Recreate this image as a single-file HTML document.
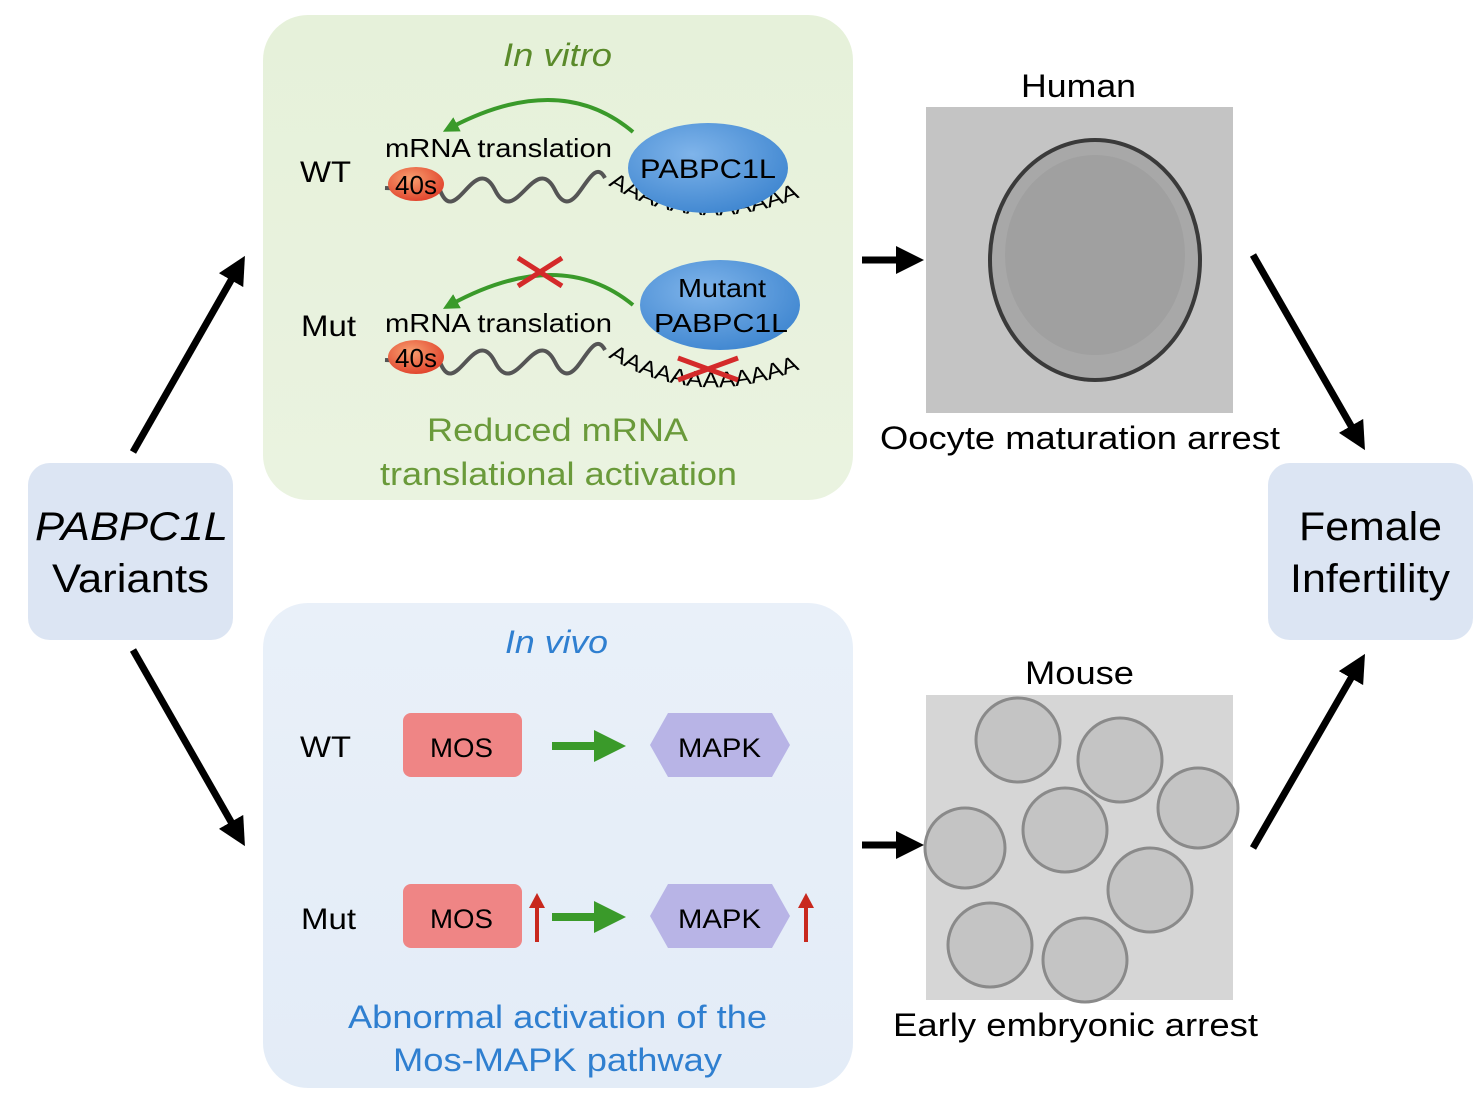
<!DOCTYPE html>
<html><head><meta charset="utf-8"><style>
html,body{margin:0;padding:0;background:#fff;}
svg{display:block;font-family:"Liberation Sans",sans-serif;}
</style></head><body>
<svg width="1482" height="1100" viewBox="0 0 1482 1100">
<defs>
<linearGradient id="gg" x1="0" y1="0" x2="0" y2="1"><stop offset="0" stop-color="#e6f1da"/><stop offset="1" stop-color="#eaf3e0"/></linearGradient>
<linearGradient id="bg" x1="0" y1="0" x2="0" y2="1"><stop offset="0" stop-color="#e9f0f9"/><stop offset="1" stop-color="#e3ecf7"/></linearGradient>
<radialGradient id="pab" cx="0.4" cy="0.35" r="0.7"><stop offset="0" stop-color="#7fb4ea"/><stop offset="1" stop-color="#3f86d0"/></radialGradient>
<radialGradient id="r40" cx="0.4" cy="0.35" r="0.7"><stop offset="0" stop-color="#f8a070"/><stop offset="1" stop-color="#e0402a"/></radialGradient>
<marker id="ah" viewBox="0 0 10 10" refX="5" refY="5" markerWidth="4" markerHeight="4" orient="auto"><path d="M0,0L10,5L0,10z" fill="#000"/></marker>
<marker id="gh" viewBox="0 0 10 10" refX="5" refY="5" markerWidth="4" markerHeight="4" orient="auto"><path d="M0,0L10,5L0,10z" fill="#3a9a2a"/></marker>
<path id="tail1" d="M608,185 Q700,240 805,195"/>
<path id="tail2" d="M608,357 Q700,412 805,367"/>
</defs>

<g>
<rect x="28" y="463" width="205" height="177" rx="22" fill="#dce5f3"/>
<text x="35" y="540" font-size="40" font-style="italic" textLength="193" lengthAdjust="spacingAndGlyphs">PABPC1L</text>
<text x="52" y="592" font-size="40" textLength="157" lengthAdjust="spacingAndGlyphs">Variants</text>
</g>
<g>
<rect x="1268" y="463" width="205" height="177" rx="22" fill="#dce5f3"/>
<text x="1299" y="540" font-size="40" textLength="143" lengthAdjust="spacingAndGlyphs">Female</text>
<text x="1290" y="592" font-size="40" textLength="160" lengthAdjust="spacingAndGlyphs">Infertility</text>
</g>

<g>
<rect x="263" y="15" width="590" height="485" rx="45" fill="url(#gg)"/>
<text x="503" y="66" font-size="32" font-style="italic" fill="#5a8a2a" textLength="109" lengthAdjust="spacingAndGlyphs">In vitro</text>
<text x="300" y="182" font-size="30" textLength="51" lengthAdjust="spacingAndGlyphs">WT</text>
<text x="385" y="157" font-size="26" textLength="227" lengthAdjust="spacingAndGlyphs">mRNA translation</text>
<path d="M633,132 Q560,70 450,128" stroke="#3a9a2a" stroke-width="4" fill="none" marker-end="url(#gh)"/>
<path d="M385,188 L440,190 C455,230 475,150 495,190 C515,230 535,150 555,190 C575,230 590,150 605,178" stroke="#555" stroke-width="4" fill="none"/>
<ellipse cx="416" cy="184" rx="28" ry="17" fill="url(#r40)"/>
<text x="416" y="194" font-size="26" text-anchor="middle">40s</text>
<text font-size="22"><textPath href="#tail1" textLength="200" lengthAdjust="spacingAndGlyphs">AAAAAAAAAAAA</textPath></text>
<ellipse cx="708" cy="168" rx="80" ry="45" fill="url(#pab)"/>
<text x="640" y="178" font-size="27" textLength="136" lengthAdjust="spacingAndGlyphs">PABPC1L</text>

<text x="301" y="336" font-size="30" textLength="55" lengthAdjust="spacingAndGlyphs">Mut</text>
<text x="385" y="332" font-size="26" textLength="227" lengthAdjust="spacingAndGlyphs">mRNA translation</text>
<path d="M633,305 Q560,245 450,305" stroke="#3a9a2a" stroke-width="4" fill="none" marker-end="url(#gh)"/>
<path d="M518,258 L562,286 M518,286 L562,258" stroke="#d42a2a" stroke-width="5"/>
<path d="M385,360 L440,362 C455,402 475,322 495,362 C515,402 535,322 555,362 C575,402 590,322 605,350" stroke="#555" stroke-width="4" fill="none"/>
<ellipse cx="416" cy="357" rx="28" ry="17" fill="url(#r40)"/>
<text x="416" y="367" font-size="26" text-anchor="middle">40s</text>
<text font-size="22"><textPath href="#tail2" textLength="200" lengthAdjust="spacingAndGlyphs">AAAAAAAAAAAA</textPath></text>
<ellipse cx="720" cy="305" rx="80" ry="45" fill="url(#pab)"/>
<text x="678" y="297" font-size="26" textLength="88" lengthAdjust="spacingAndGlyphs">Mutant</text>
<text x="654" y="332" font-size="26" textLength="134" lengthAdjust="spacingAndGlyphs">PABPC1L</text>
<path d="M678,358 L738,380 M678,380 L738,358" stroke="#d42a2a" stroke-width="5"/>
<text x="427" y="441" font-size="32" fill="#6a9a3a" textLength="261" lengthAdjust="spacingAndGlyphs">Reduced mRNA</text>
<text x="380" y="485" font-size="32" fill="#6a9a3a" textLength="357" lengthAdjust="spacingAndGlyphs">translational activation</text>
</g>

<g>
<rect x="263" y="603" width="590" height="485" rx="45" fill="url(#bg)"/>
<text x="505" y="653" font-size="32" font-style="italic" fill="#2f7fd0" textLength="103" lengthAdjust="spacingAndGlyphs">In vivo</text>
<text x="300" y="757" font-size="30" textLength="51" lengthAdjust="spacingAndGlyphs">WT</text>
<rect x="403" y="713" width="119" height="64" rx="8" fill="#ef8585"/>
<text x="430" y="757" font-size="27" textLength="63" lengthAdjust="spacingAndGlyphs">MOS</text>
<line x1="552" y1="746" x2="610" y2="746" stroke="#3a9a2a" stroke-width="8" marker-end="url(#gh)"/>
<polygon points="668,713 772,713 790,745 772,777 668,777 650,745" fill="#b8b4e6"/>
<text x="678" y="757" font-size="27" textLength="83" lengthAdjust="spacingAndGlyphs">MAPK</text>

<text x="301" y="929" font-size="30" textLength="55" lengthAdjust="spacingAndGlyphs">Mut</text>
<rect x="403" y="884" width="119" height="64" rx="8" fill="#ef8585"/>
<text x="430" y="928" font-size="27" textLength="63" lengthAdjust="spacingAndGlyphs">MOS</text>
<line x1="537" y1="942" x2="537" y2="905" stroke="#c8281e" stroke-width="4"/><path d="M529,908 L537,893 L545,908z" fill="#c8281e"/>
<line x1="552" y1="917" x2="610" y2="917" stroke="#3a9a2a" stroke-width="8" marker-end="url(#gh)"/>
<polygon points="668,884 772,884 790,916 772,948 668,948 650,916" fill="#b8b4e6"/>
<text x="678" y="928" font-size="27" textLength="83" lengthAdjust="spacingAndGlyphs">MAPK</text>
<line x1="806" y1="942" x2="806" y2="905" stroke="#c8281e" stroke-width="4"/><path d="M798,908 L806,893 L814,908z" fill="#c8281e"/>
<text x="348" y="1028" font-size="32" fill="#2f7fd0" textLength="419" lengthAdjust="spacingAndGlyphs">Abnormal activation of the</text>
<text x="393" y="1071" font-size="32" fill="#2f7fd0" textLength="329" lengthAdjust="spacingAndGlyphs">Mos-MAPK pathway</text>
</g>

<g>
<text x="1021" y="97" font-size="32" textLength="115" lengthAdjust="spacingAndGlyphs">Human</text>
<rect x="926" y="107" width="307" height="306" fill="#c4c4c4"/>
<ellipse cx="1095" cy="260" rx="105" ry="120" fill="#a8a8a8" stroke="#3a3a3a" stroke-width="4"/>
<ellipse cx="1095" cy="255" rx="90" ry="100" fill="#a0a0a0"/>
<text x="880" y="449" font-size="32" textLength="400" lengthAdjust="spacingAndGlyphs">Oocyte maturation arrest</text>
</g>
<g>
<text x="1025" y="684" font-size="32" textLength="109" lengthAdjust="spacingAndGlyphs">Mouse</text>
<rect x="926" y="695" width="307" height="305" fill="#d6d6d6"/>
<g fill="#c4c4c4" stroke="#8a8a8a" stroke-width="3">
<circle cx="1018" cy="740" r="42"/><circle cx="1120" cy="760" r="42"/><circle cx="1198" cy="808" r="40"/>
<circle cx="1065" cy="830" r="42"/><circle cx="965" cy="848" r="40"/><circle cx="1150" cy="890" r="42"/>
<circle cx="990" cy="945" r="42"/><circle cx="1085" cy="960" r="42"/>
</g>
<text x="893" y="1036" font-size="32" textLength="365" lengthAdjust="spacingAndGlyphs">Early embryonic arrest</text>
</g>

<g stroke="#000" stroke-width="7" fill="none">
<line x1="133" y1="452" x2="238" y2="268" marker-end="url(#ah)"/>
<line x1="133" y1="650" x2="238" y2="834" marker-end="url(#ah)"/>
<line x1="862" y1="260" x2="910" y2="260" marker-end="url(#ah)"/>
<line x1="862" y1="845" x2="910" y2="845" marker-end="url(#ah)"/>
<line x1="1253" y1="255" x2="1358" y2="438" marker-end="url(#ah)"/>
<line x1="1253" y1="848" x2="1358" y2="666" marker-end="url(#ah)"/>
</g>
</svg>
</body></html>
